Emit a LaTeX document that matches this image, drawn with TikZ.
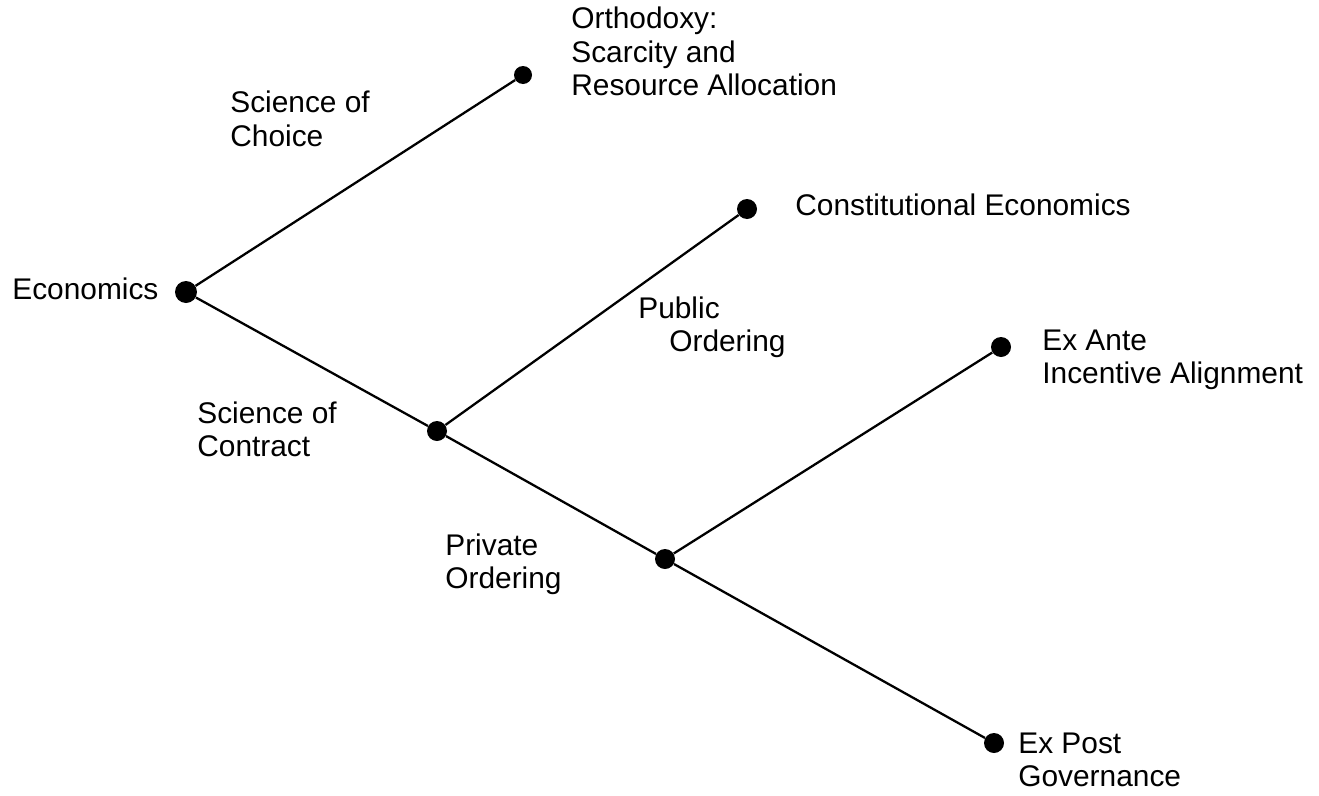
\documentclass[tikz,border=0pt]{standalone}
\usepackage{fontspec}
\setmainfont{Liberation Sans}
\begin{document}
\begin{tikzpicture}
  [x=0.02cm,y=-0.02cm,every node/.style={inner sep=0pt},
   dot/.style={circle,fill=black,minimum size=0.4cm},
   lbl/.style={anchor=north west,align=left,font=\fontsize{17}{18.8}\selectfont}]
  \useasboundingbox (0,0) rectangle (1319,795);
  \node[dot,minimum size=0.44cm] (econ) at (186,292) {};
  \node[dot,minimum size=0.36cm] (orth) at (523,75) {};
  \node[dot] (contr)  at (437,431) {};
  \node[dot] (const)  at (747,209) {};
  \node[dot] (priv)   at (665,559) {};
  \node[dot] (exante) at (1001,347) {};
  \node[dot] (expost) at (994,743) {};

  \foreach \from/\to in {econ/orth,econ/contr,contr/const,contr/priv,priv/exante,priv/expost}
    \draw[line width=1.3pt] (\from) -- (\to);

  \node[lbl] (leconomics) at (12,277)  {Economics};
  \node[lbl] (lorthodoxy) at (571,7)   {Orthodoxy:\\Scarcity and\\Resource Allocation};
  \node[lbl] (lchoice)    at (230,91)  {Science of\\Choice};
  \node[lbl] (lconst)     at (795,194) {Constitutional Economics};
  \node[lbl] (lpublic)    at (638,296) {Public\\\hspace*{0.62cm}Ordering};
  \node[lbl] (lexante)    at (1042,330) {Ex Ante\\Incentive Alignment};
  \node[lbl] (lcontract)  at (197,401) {Science of\\Contract};
  \node[lbl] (lprivate)   at (445,533) {Private\\Ordering};
  \node[lbl] (lexpost)    at (1018,733) {Ex Post\\Governance};
\end{tikzpicture}
\end{document}
